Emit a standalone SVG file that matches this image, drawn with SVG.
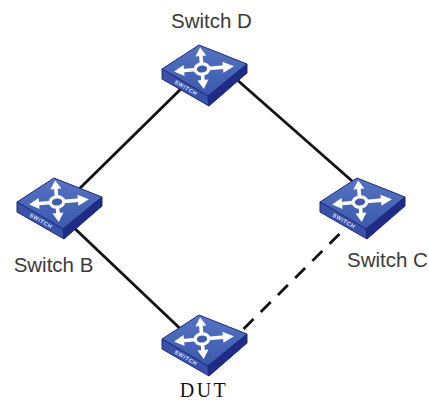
<svg xmlns="http://www.w3.org/2000/svg" xmlns:xlink="http://www.w3.org/1999/xlink" width="429" height="403" viewBox="0 0 429 403">
<style>
.lbl{font-family:"Liberation Sans",Arial,sans-serif;font-size:20.5px;fill:#3a3a3a;text-anchor:middle}
.dut{font-family:"Liberation Serif","Times New Roman",serif;font-size:20px;fill:#111;text-anchor:middle;letter-spacing:2.5px}
.link{stroke:#111;stroke-width:2.8;fill:none;stroke-linecap:butt}
.dash{stroke-dasharray:14 10.2}
.top{fill:url(#gTop);stroke:#1d2a82;stroke-width:1;stroke-linejoin:round}
.lf{fill:#3b51a8;stroke:#1d2a82;stroke-width:1;stroke-linejoin:round}
.rf{fill:#1f2b86;stroke:#1d2a82;stroke-width:1;stroke-linejoin:round}
.arr{fill:#fff}
.swt{font-family:"Liberation Sans",Arial,sans-serif;font-size:5.5px;font-weight:bold;fill:#dfe6ff;text-anchor:middle;letter-spacing:0.6px}
</style>
<defs>
<linearGradient id="gTop" x1="0" y1="0" x2="0" y2="1">
<stop offset="0" stop-color="#5674c2"/>
<stop offset="1" stop-color="#3b58ac"/>
</linearGradient>
<g id="sw">
<path class="top" d="M0,24 L37,0 L85,19 L46,51 Z"/>
<path class="lf" d="M0,24 L46,51 L47,61 L0,34 Z"/>
<path class="rf" d="M46,51 L85,19 L85,28 L47,61 Z"/>
<g transform="rotate(-5 40 24)">
<rect class="arr" x="20" y="22.2" width="14" height="3.6"/>
<polygon class="arr" points="12,24 22,18.5 22,29.5"/>
<rect class="arr" x="46" y="22.2" width="16" height="3.6"/>
<polygon class="arr" points="72,24 61,18.5 61,29.5"/>
<rect class="arr" x="38.2" y="9" width="3.6" height="10"/>
<polygon class="arr" points="40,2.5 34.5,11 45.5,11"/>
<rect class="arr" x="38.2" y="29" width="3.6" height="7"/>
<polygon class="arr" points="40,44 34.5,35 45.5,35"/>
<ellipse cx="40" cy="24" rx="6.8" ry="5.2" fill="#3d5cae" stroke="#fff" stroke-width="3.2"/>
</g>
<text class="swt" transform="translate(23,44.5) rotate(30)">SWITCH</text>
</g>
</defs>
<g id="connectors">
<line class="link" x1="190" y1="80" x2="73" y2="195"/>
<line class="link" x1="235" y1="78" x2="360" y2="188"/>
<line class="link" x1="70" y1="224" x2="190" y2="338"/>
<line class="link dash" x1="339.5" y1="234" x2="243" y2="329.5"/>
</g>
<g id="node-d">
<use xlink:href="#sw" x="162" y="45"/>
<text class="lbl" x="211.5" y="27.5">Switch D</text>
</g>
<g id="node-b">
<use xlink:href="#sw" x="17" y="178"/>
<text class="lbl" x="53.5" y="272">Switch B</text>
</g>
<g id="node-c">
<use xlink:href="#sw" x="320" y="178"/>
<text class="lbl" x="387.5" y="267">Switch C</text>
</g>
<g id="node-dut">
<use xlink:href="#sw" x="162" y="315"/>
<text class="dut" x="204" y="397">DUT</text>
</g>
</svg>
